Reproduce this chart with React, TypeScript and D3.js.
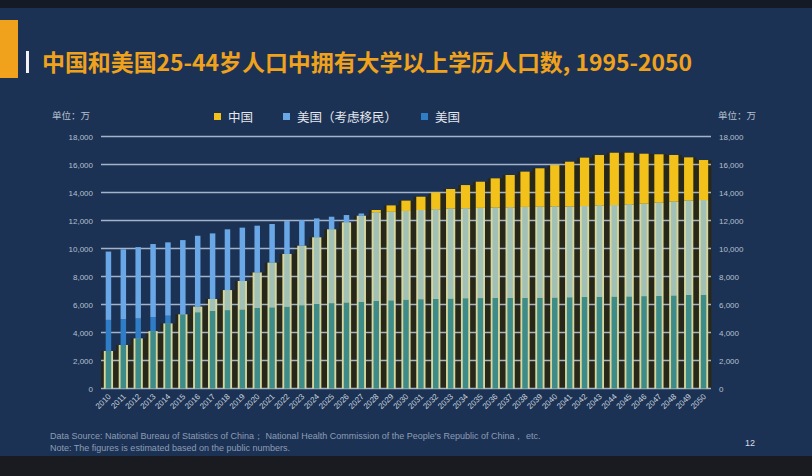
import React, { useEffect, useRef } from 'react';
import * as d3 from 'd3';

const years = d3.range(2010, 2051);

// 中国 (万人)
const china = [
  2680, 3110, 3580, 4100, 4650, 5300, 5850, 6390, 7030, 7680,
  8290, 8990, 9610, 10200, 10800, 11370, 11870, 12340, 12750, 13080,
  13420, 13700, 14010, 14250, 14530, 14770, 15010, 15250, 15490, 15730,
  15960, 16200, 16490, 16680, 16840, 16840, 16770, 16730, 16680, 16510,
  16320,
];

// 美国（考虑移民）
const usImmig = [
  9780, 9940, 10100, 10320, 10440, 10600, 10910, 11080, 11370, 11490,
  11630, 11750, 11960, 12030, 12150, 12270, 12390, 12500, 12580, 12620,
  12680, 12750, 12800, 12850, 12870, 12900, 12920, 12940, 12970, 12980,
  13000, 12990, 13030, 13080, 13100, 13150, 13200, 13270, 13350, 13420,
  13460,
];

// 美国
const us = [
  4900, 4950, 5000, 5100, 5200, 5300, 5450, 5550, 5600, 5650,
  5750, 5800, 5850, 5950, 6050, 6100, 6150, 6200, 6250, 6300,
  6350, 6380, 6400, 6430, 6450, 6460, 6470, 6480, 6480, 6490,
  6500, 6520, 6540, 6560, 6570, 6580, 6600, 6620, 6650, 6680,
  6700,
];

const yTicks = [0, 2000, 4000, 6000, 8000, 10000, 12000, 14000, 16000, 18000];

const legendItems = [
  { label: '中国', color: '#f2c21a' },
  { label: '美国（考虑移民）', color: '#6aa7e6' },
  { label: '美国', color: '#2e7dc6' },
];

const App = () => {
  const ref = useRef(null);

  useEffect(() => {
    const W = 812, H = 476;
    const root = d3.select(ref.current);
    root.selectAll('*').remove();

    const svg = root
      .append('svg')
      .attr('width', W)
      .attr('height', H)
      .style('position', 'absolute')
      .style('left', 0)
      .style('top', 0);

    // background
    svg.append('rect').attr('width', W).attr('height', H).attr('fill', '#1c3254');
    svg.append('rect').attr('width', W).attr('height', 8).attr('fill', '#151b26');
    svg.append('rect').attr('y', 456).attr('width', W).attr('height', 20).attr('fill', '#1a1b20');

    // title decorations
    svg.append('rect').attr('x', 0).attr('y', 20).attr('width', 18).attr('height', 58).attr('fill', '#f0a21c');
    svg.append('rect').attr('x', 26).attr('y', 51).attr('width', 3).attr('height', 22).attr('fill', '#f2f2f2');
    svg
      .append('text')
      .attr('x', 42)
      .attr('y', 71)
      .attr('fill', '#f0a21c')
      .attr('textLength', 650)
      .attr('lengthAdjust', 'spacingAndGlyphs')
      .style('font-family', '"Noto Sans CJK SC", sans-serif')
      .style('font-weight', 700)
      .style('font-size', '22.5px')
      .text('中国和美国25-44岁人口中拥有大学以上学历人口数, 1995-2050');

    const x = d3.scaleBand().domain(years.map(String)).range([101, 711]).padding(0);
    const y = d3.scaleLinear().domain([0, 18000]).range([388.5, 136.5]);
    const bw = x.bandwidth();
    const chinaW = bw * 0.62;
    const usW = bw * 0.37;

    const rows = years.map((yr, i) => ({ yr: String(yr), c: china[i], u: us[i], m: usImmig[i] }));

    // dark shading behind bars
    svg
      .append('g')
      .selectAll('rect')
      .data(rows)
      .join('rect')
      .attr('x', (d) => x(d.yr))
      .attr('width', bw + 0.5)
      .attr('y', (d) => y(d.c))
      .attr('height', (d) => y(0) - y(d.c))
      .attr('fill', '#28281a');

    // gridlines
    svg
      .append('g')
      .selectAll('line')
      .data(yTicks)
      .join('line')
      .attr('x1', 101)
      .attr('x2', 711)
      .attr('y1', (d) => y(d))
      .attr('y2', (d) => y(d))
      .attr('stroke', '#a3b4ca')
      .attr('stroke-width', 1.4);

    // China bars: pale where overlapping US, bright yellow above
    const gC = svg.append('g');
    gC.selectAll('rect.pale')
      .data(rows)
      .join('rect')
      .attr('class', 'pale')
      .attr('x', (d) => x(d.yr) + (bw - chinaW) / 2)
      .attr('width', chinaW)
      .attr('y', (d) => y(Math.min(d.c, d.m)))
      .attr('height', (d) => y(0) - y(Math.min(d.c, d.m)))
      .attr('fill', '#d8d79e');
    gC.selectAll('rect.top')
      .data(rows.filter((d) => d.c > d.m))
      .join('rect')
      .attr('class', 'top')
      .attr('x', (d) => x(d.yr) + (bw - chinaW) / 2)
      .attr('width', chinaW)
      .attr('y', (d) => y(d.c))
      .attr('height', (d) => y(d.m) - y(d.c))
      .attr('fill', '#f2c21a');

    // US bars split into overlap segments
    const segs = [];
    rows.forEach((d) => {
      const lo = Math.min(d.c, d.u);
      segs.push({ yr: d.yr, y0: 0, y1: lo, fill: '#3e8c89' });
      if (d.c < d.u) segs.push({ yr: d.yr, y0: d.c, y1: d.u, fill: '#2e7dc6' });
      if (d.c > d.u) segs.push({ yr: d.yr, y0: d.u, y1: Math.min(d.c, d.m), fill: '#a2c1b6' });
      if (d.c < d.m) segs.push({ yr: d.yr, y0: Math.max(d.c, d.u), y1: d.m, fill: '#6aa7e6' });
    });
    svg
      .append('g')
      .selectAll('rect')
      .data(segs.filter((s) => s.y1 > s.y0))
      .join('rect')
      .attr('x', (d) => x(d.yr) + (bw - usW) / 2)
      .attr('width', usW)
      .attr('y', (d) => y(d.y1))
      .attr('height', (d) => y(d.y0) - y(d.y1))
      .attr('fill', (d) => d.fill);

    // y tick labels both sides
    const fmt = d3.format(',');
    const tickFont = '"Liberation Sans", sans-serif';
    svg
      .append('g')
      .selectAll('text')
      .data(yTicks)
      .join('text')
      .attr('x', 93)
      .attr('y', (d) => y(d) + 3)
      .attr('text-anchor', 'end')
      .attr('fill', '#b4c0d0')
      .style('font-family', tickFont)
      .style('font-size', '8px')
      .text((d) => fmt(d));
    svg
      .append('g')
      .selectAll('text')
      .data(yTicks)
      .join('text')
      .attr('x', 719)
      .attr('y', (d) => y(d) + 3)
      .attr('fill', '#b4c0d0')
      .style('font-family', tickFont)
      .style('font-size', '8px')
      .text((d) => fmt(d));

    // unit labels
    [52, 718].forEach((ux) => {
      svg
        .append('text')
        .attr('x', ux)
        .attr('y', 119)
        .attr('fill', '#b4c0d0')
        .style('font-family', '"Noto Sans CJK SC", sans-serif')
        .style('font-size', '9.5px')
        .text('单位：万');
    });

    // x labels
    svg
      .append('g')
      .selectAll('text')
      .data(years.map(String))
      .join('text')
      .attr('transform', (d) => `translate(${x(d) + bw / 2 + 3},${397}) rotate(-45)`)
      .attr('text-anchor', 'end')
      .attr('fill', '#c8d2de')
      .style('font-family', tickFont)
      .style('font-size', '8px')
      .text((d) => d);

    // legend
    const legendX = [214, 283, 421];
    const lg = svg
      .append('g')
      .selectAll('g')
      .data(legendItems)
      .join('g')
      .attr('transform', (d, i) => `translate(${legendX[i]},117)`);
    lg.append('rect').attr('x', 0).attr('y', -4).attr('width', 7).attr('height', 7).attr('fill', (d) => d.color);
    lg.append('text')
      .attr('x', 14)
      .attr('y', 4.5)
      .attr('fill', '#e4e8ee')
      .style('font-family', '"Noto Sans CJK SC", sans-serif')
      .style('font-size', '12.5px')
      .text((d) => d.label);

    // footnotes
    const foot = svg
      .append('g')
      .attr('fill', '#8c9db6')
      .style('font-family', '"Liberation Sans", sans-serif')
      .style('font-size', '9px');
    foot.append('text')
      .attr('x', 50)
      .attr('y', 439)
      .text("Data Source: National Bureau of Statistics of China；  National Health Commission of the People's Republic of China，  etc.");
    foot.append('text').attr('x', 50).attr('y', 451).text('Note: The figures is estimated based on the public numbers.');
    svg
      .append('text')
      .attr('x', 745)
      .attr('y', 446)
      .attr('fill', '#d8dee8')
      .style('font-family', '"Liberation Sans", sans-serif')
      .style('font-size', '9px')
      .text('12');
  }, []);

  return <div ref={ref} style={{ width: 812, height: 476 }}></div>;
};

export default App;
